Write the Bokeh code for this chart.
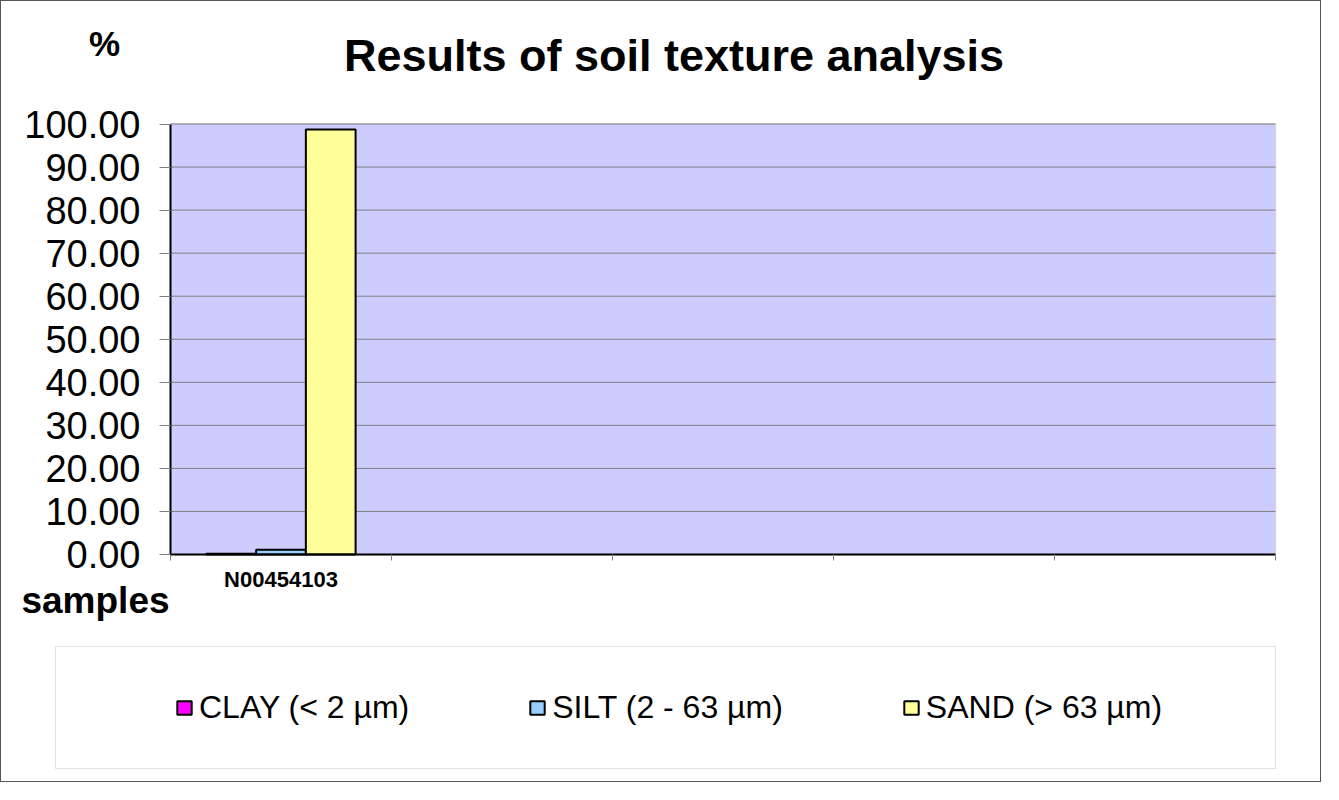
from bokeh.plotting import figure
from bokeh.models import (FixedTicker, Label, BoxAnnotation, Range1d,
                          NumeralTickFormatter)
from bokeh.embed import file_html
from bokeh.resources import INLINE

# ---- data ----
samples = ["N00454103"]
n_slots = 5
series = ["CLAY (< 2 µm)", "SILT (2 - 63 µm)", "SAND (> 63 µm)"]
clay = [0.2]
silt = [1.1]
sand = [98.7]
colors = ["#ff00ff", "#99ccff", "#ffff99"]
y_ticks = [0, 10, 20, 30, 40, 50, 60, 70, 80, 90, 100]

W, H = 1321, 782
OX, OY = 9, 9  # page offset of canvas (margin + border)
# plot area in page pixels
PX0, PX1, PY0, PY1 = 178, 1283, 131.5, 562

def dx(px):
    return (px - PX0) / (PX1 - PX0) * n_slots
def dy(py):
    return (PY1 - py) / (PY1 - PY0) * 100

p = figure(width=W, height=H, output_backend="svg", toolbar_location=None,
           x_range=Range1d(dx(OX), dx(OX + W)),
           y_range=Range1d(dy(OY + H), dy(OY)),
           min_border=0, tools="")
p.title = None
p.background_fill_color = "white"
p.border_fill_color = "white"
p.outline_line_color = None
p.styles = {"border": "1px solid #555555"}
p.xgrid.visible = False
p.ygrid.visible = False

# plot area background
p.add_layout(BoxAnnotation(left=0, right=n_slots, bottom=0, top=100,
                           fill_color="#ccccff", fill_alpha=1,
                           line_color="#b8b8b8", line_width=2,
                           level="underlay"))
# horizontal grid lines
p.segment(x0=[0] * (len(y_ticks) - 1), x1=[n_slots] * (len(y_ticks) - 1),
          y0=y_ticks[1:], y1=y_ticks[1:], line_color="#808080", line_width=1)

bar_w = 0.225
vals = [clay, silt, sand]
for j, (name, v, c) in enumerate(zip(series, vals, colors)):
    xs = [i + 0.5 + (j - 1) * bar_w for i in range(len(samples))]
    p.vbar(x=xs, top=v, bottom=0, width=bar_w, fill_color=c,
           line_color="black", line_width=2, legend_label=name)

# y axis
ya = p.yaxis[0]
ya.fixed_location = 0
ya.bounds = (0, 100)
ya.ticker = FixedTicker(ticks=y_ticks)
ya.formatter = NumeralTickFormatter(format="0.00")
ya.major_label_text_font = "Liberation Sans"
ya.major_label_text_font_size = "38px"
ya.major_label_text_color = "black"
ya.axis_line_color = "black"
ya.axis_line_width = 2
ya.major_tick_line_color = "#808080"
ya.major_tick_out = 11
ya.major_tick_in = 0
ya.minor_tick_line_color = None
ya.major_label_standoff = 19

# x axis
xa = p.xaxis[0]
xa.fixed_location = 0
xa.bounds = (0, n_slots)
xa.ticker = FixedTicker(ticks=[i + 0.5 for i in range(len(samples))],
                        minor_ticks=list(range(n_slots + 1)))
xa.major_label_overrides = {i + 0.5: s for i, s in enumerate(samples)}
xa.major_label_text_font = "Liberation Sans"
xa.major_label_text_font_style = "bold"
xa.major_label_text_font_size = "22px"
xa.major_label_text_color = "black"
xa.major_label_standoff = 6
xa.axis_line_color = "black"
xa.axis_line_width = 2
xa.major_tick_line_color = None
xa.minor_tick_line_color = "#808080"
xa.minor_tick_out = 6
xa.minor_tick_in = 0

for txt, x, y, size in [("Results of soil texture analysis", 681.5, 63, "45px"),
                        ("%", 112, 51, "35px"),
                        ("samples", 103, 608, "37px")]:
    p.add_layout(Label(x=dx(x), y=dy(y), text=txt,
                       text_font="Liberation Sans", text_font_style="bold",
                       text_font_size=size, text_align="center",
                       text_baseline="alphabetic", text_color="black"))

# legend box
p.add_layout(BoxAnnotation(left=dx(63), right=dx(1283),
                           bottom=dy(776), top=dy(654),
                           fill_alpha=0, line_color="#a0a0a0", line_width=1))

lg = p.legend[0]
lg.orientation = "horizontal"
lg.location = (183 - OX, (OY + H) - 734)
lg.padding = 0
lg.margin = 0
lg.spacing = 119
lg.glyph_width = 18
lg.glyph_height = 17
lg.label_standoff = 6
lg.label_height = 17
lg.label_text_font = "Liberation Sans"
lg.label_text_font_size = "32px"
lg.label_text_color = "black"
lg.label_text_baseline = "middle"
lg.border_line_alpha = 0
lg.background_fill_alpha = 0

open("out.html", "w").write(file_html(p, INLINE))
